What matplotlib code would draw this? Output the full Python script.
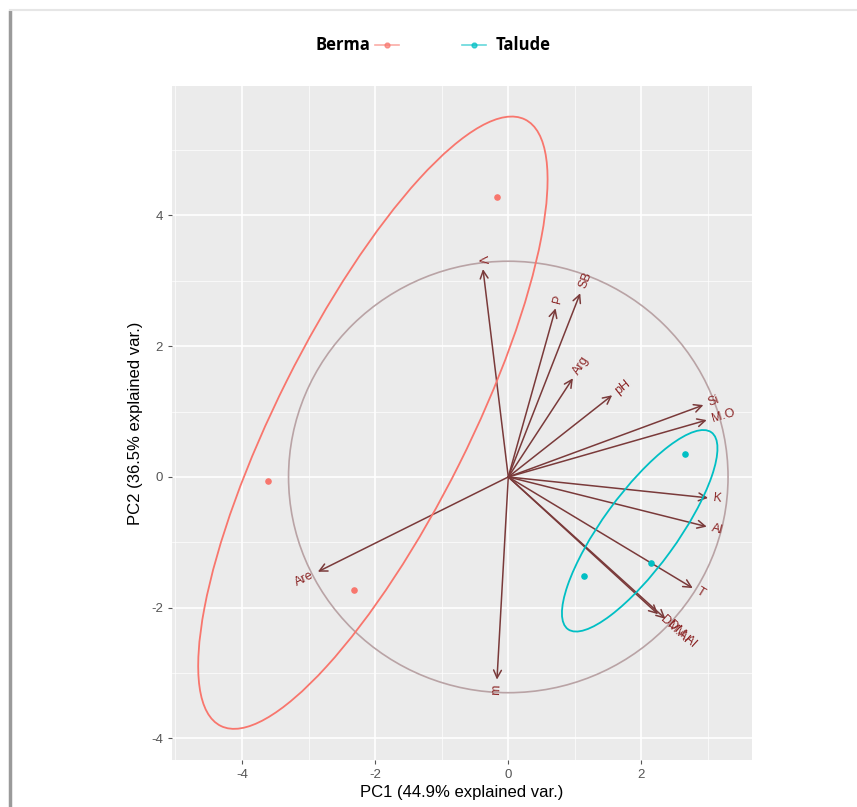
import numpy as np
import matplotlib.pyplot as plt
from matplotlib.lines import Line2D
from matplotlib.patches import Ellipse, Circle

plt.rcParams['axes.unicode_minus'] = False
plt.rcParams['font.family'] = ['Liberation Sans', 'DejaVu Sans']

# scores (PC1, PC2) per group
berma_x = [-0.17, -3.61, -2.32]
berma_y = [4.28, -0.06, -1.73]
talude_x = [2.65, 1.13, 2.14]
talude_y = [0.35, -1.51, -1.31]

# variable loadings (arrow tips)
var_names = ['V', 'P', 'SB', 'Arg', 'pH', 'Si', 'M.O', 'K', 'Al', 'T', 'DM.Al', 'DM.Al', 'm', 'Are']
var_x = [-0.38, 0.71, 1.08, 0.97, 1.56, 2.93, 2.98, 3.00, 2.98, 2.77, 2.25, 2.36, -0.17, -2.86]
var_y = [3.18, 2.58, 2.81, 1.51, 1.25, 1.10, 0.87, -0.32, -0.76, -1.70, -2.10, -2.17, -3.10, -1.45]

circle_r = 3.3
ell_prob = 0.68

x_ticks = [-4, -2, 0, 2]
y_ticks = [-4, -2, 0, 2, 4]

c_berma = '#F8766D'
c_talude = '#00BFC4'


def cov_ellipse(xs, ys, color):
    xs = np.array(xs)
    ys = np.array(ys)
    cov = np.cov(xs, ys)
    vals, vecs = np.linalg.eigh(cov)
    r = np.sqrt(-2 * np.log(1 - ell_prob))
    ang = np.degrees(np.arctan2(vecs[1, 1], vecs[0, 1]))
    w = 2 * r * np.sqrt(vals[1])
    h = 2 * r * np.sqrt(vals[0])
    return Ellipse((xs.mean(), ys.mean()), w, h, angle=ang, fill=False,
                   edgecolor=color, lw=1.3, zorder=3)


fig = plt.figure(figsize=(8.57, 8.07), dpi=100)
ax = fig.add_axes([0.2007, 0.0582, 0.6768, 0.8352])
ax.set_facecolor('#EBEBEB')
ax.set_xlim(-5.05, 3.66)
ax.set_ylim(-4.33, 5.98)

# ggplot style grid
for v in np.arange(-5, 4, 1):
    lw = 1.2 if v % 2 == 0 else 0.5
    ax.axvline(v, color='white', lw=lw, zorder=0)
for v in np.arange(-5, 7, 1):
    lw = 1.2 if v % 2 == 0 else 0.5
    ax.axhline(v, color='white', lw=lw, zorder=0)
for s in ax.spines.values():
    s.set_visible(False)

ax.set_xticks(x_ticks)
ax.set_yticks(y_ticks)
ax.tick_params(colors='#555555', labelsize=9.5, length=3, width=0.8)
ax.set_xlabel('PC1 (44.9% explained var.)', fontsize=12, labelpad=3)
ax.set_ylabel('PC2 (36.5% explained var.)', fontsize=12, labelpad=6)

# correlation circle
ax.add_patch(Circle((0, 0), circle_r, fill=False, edgecolor='#B9A3A5', lw=1.2, zorder=1))

# arrows + labels
for name, vx, vy in zip(var_names, var_x, var_y):
    ax.annotate('', xy=(vx, vy), xytext=(0, 0),
                arrowprops=dict(arrowstyle='->', color='#7A3A3A', lw=1.1,
                                mutation_scale=14, shrinkA=0, shrinkB=0), zorder=2)
    ang = np.degrees(np.arctan(vy / vx))
    d = np.hypot(vx, vy)
    ox, oy = vx + 0.08 * vx / d, vy + 0.08 * vy / d
    ax.text(ox, oy, name, rotation=ang, rotation_mode='anchor',
            ha='left' if vx > 0 else 'right', va='center',
            color='#8B2525', fontsize=9, zorder=4)

# group ellipses and points
ax.add_patch(cov_ellipse(berma_x, berma_y, c_berma))
ax.add_patch(cov_ellipse(talude_x, talude_y, c_talude))
ax.scatter(berma_x, berma_y, s=14, color=c_berma, zorder=5)
ax.scatter(talude_x, talude_y, s=14, color=c_talude, zorder=5)

# legend at top
fig.text(0.432, 0.944, 'Berma', fontsize=12, fontweight='bold', ha='right', va='center',
         family='Open Sans')
fig.add_artist(Line2D([0.437, 0.465], [0.944, 0.944], color=c_berma, lw=1.2, alpha=0.6))
fig.add_artist(Line2D([0.451], [0.944], marker='o', ms=3.5, color=c_berma, alpha=0.7))
fig.add_artist(Line2D([0.539, 0.567], [0.944, 0.944], color=c_talude, lw=1.2, alpha=0.6))
fig.add_artist(Line2D([0.553], [0.944], marker='o', ms=3.5, color=c_talude, alpha=0.7))
fig.text(0.578, 0.944, 'Talude', fontsize=12, fontweight='bold', ha='left', va='center',
         family='Open Sans')

# screenshot frame
fig.add_artist(Line2D([0.012, 0.012], [0.0, 0.985], color='#9A9A9A', lw=2.5))
fig.add_artist(Line2D([0.012, 1.0], [0.987, 0.987], color='#E6E6E6', lw=1.5))

fig.savefig('out.png', dpi=100)
